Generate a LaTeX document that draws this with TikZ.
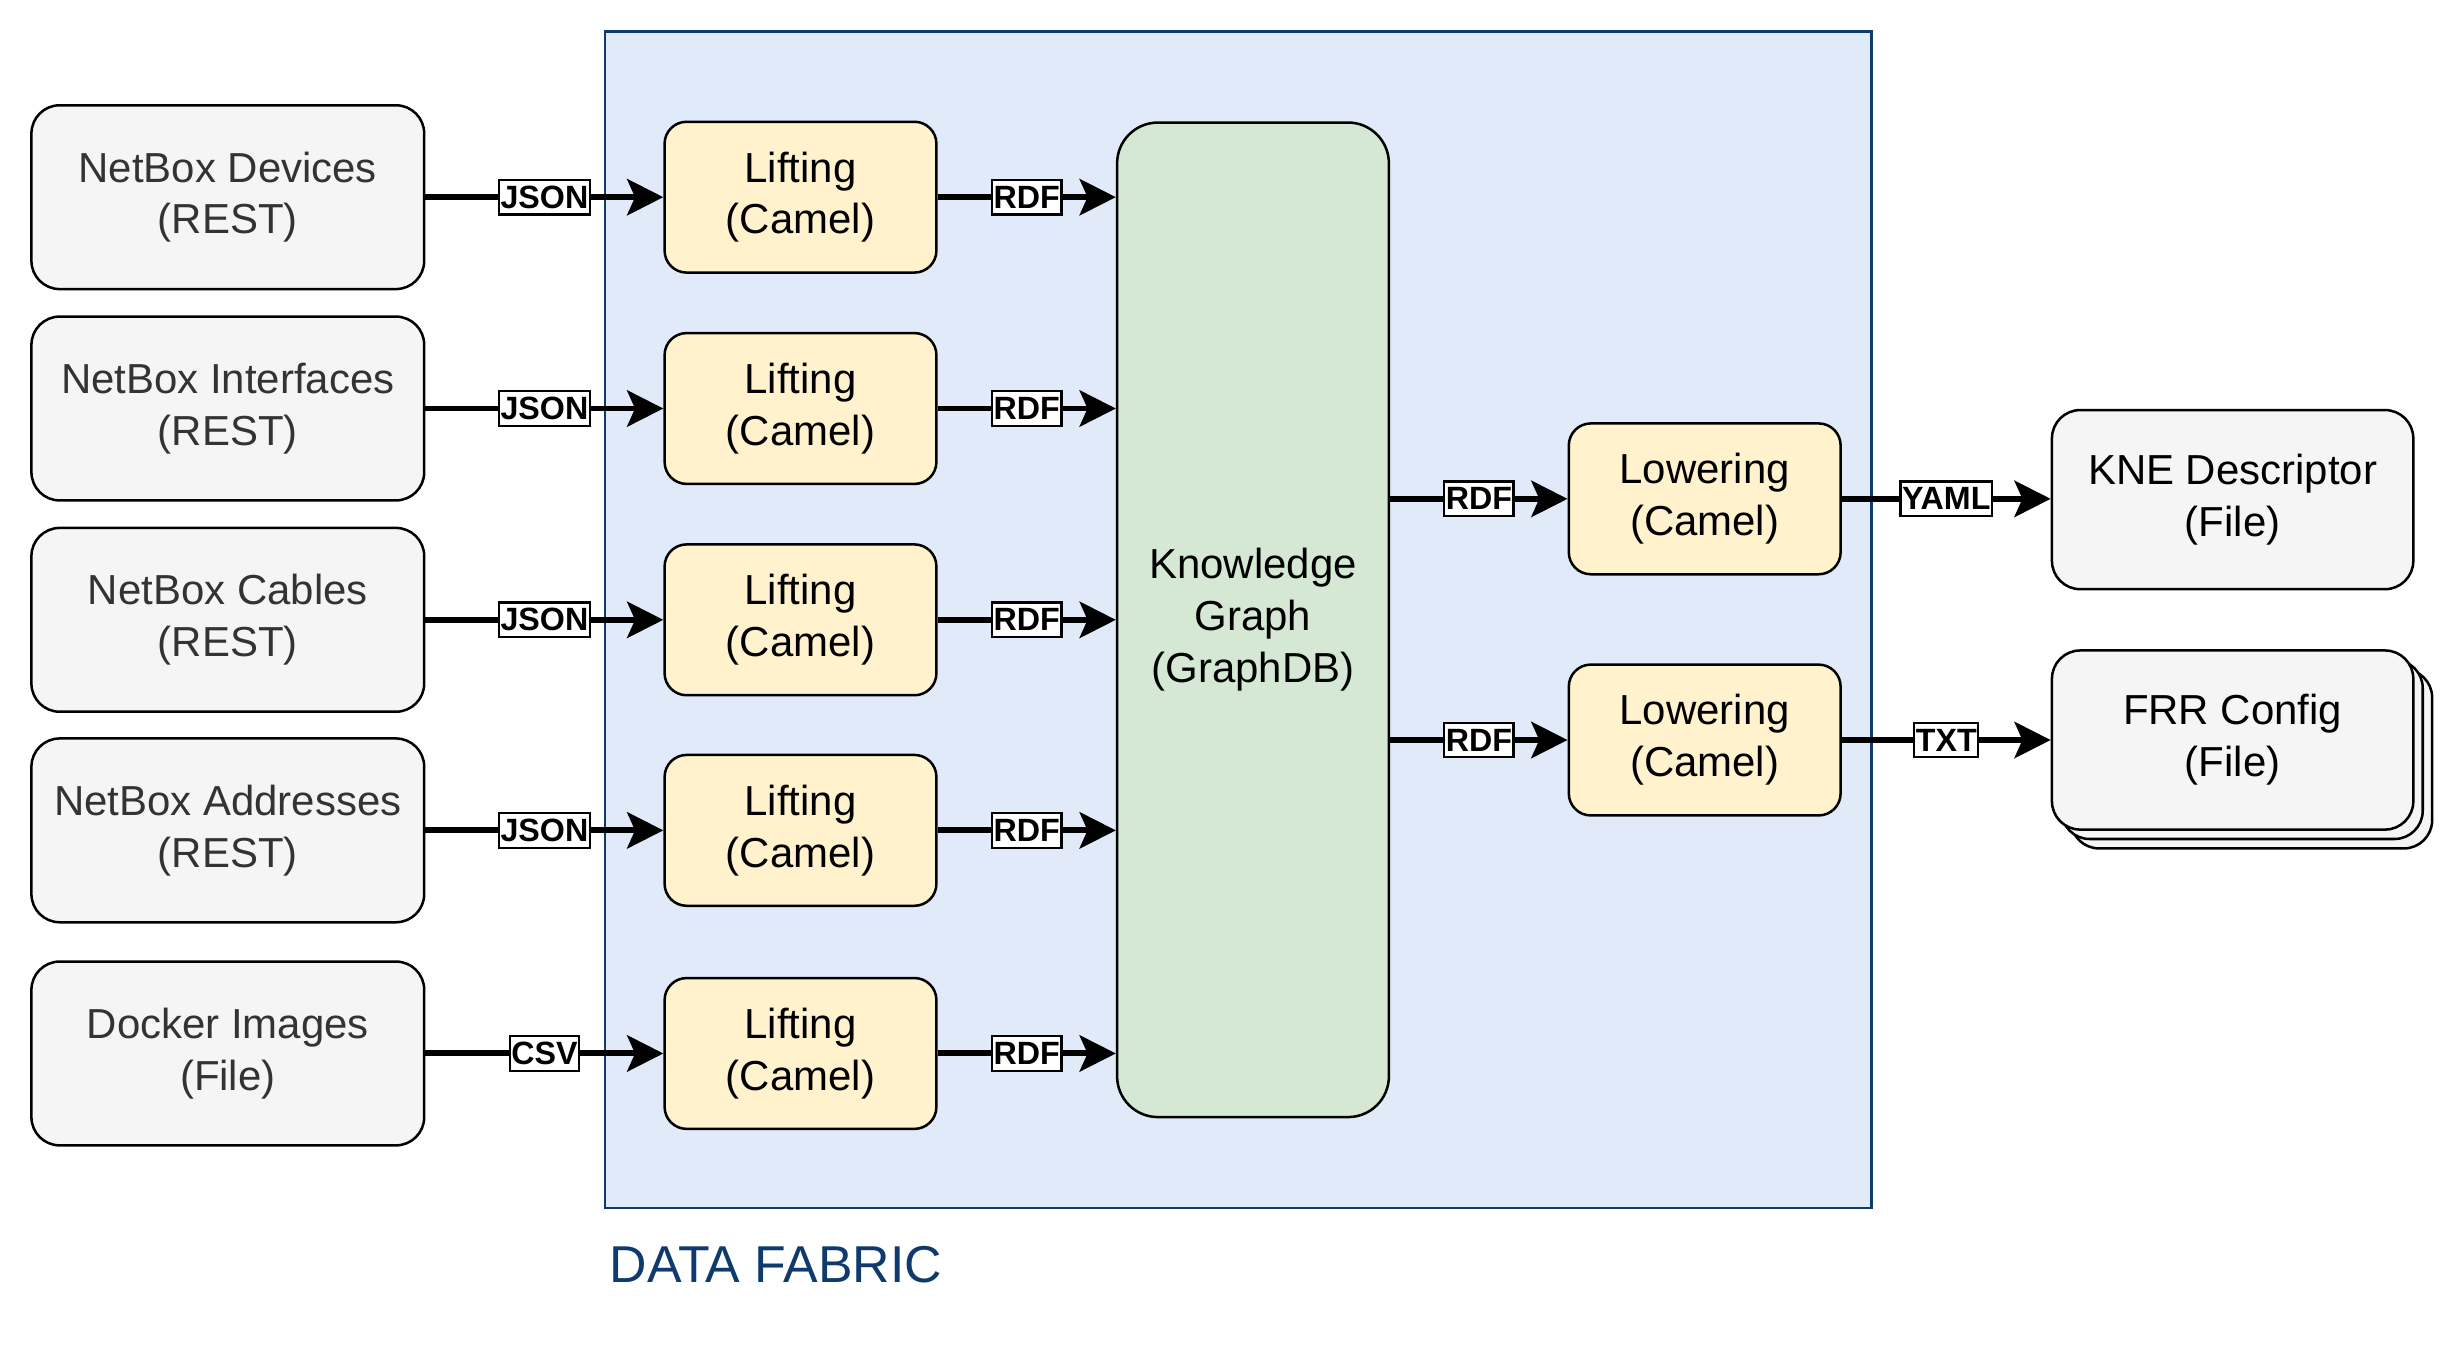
\documentclass[tikz,border=0pt]{standalone}
\usepackage{fontspec}
\setmainfont{Liberation Sans}
\usetikzlibrary{arrows.meta}

\definecolor{srcgray}{HTML}{F5F5F5}
\definecolor{srctext}{HTML}{333333}
\definecolor{camelyellow}{HTML}{FFF2CC}
\definecolor{kggreen}{HTML}{D5E8D4}
\definecolor{fabricblue}{HTML}{E0EAF9}
\definecolor{fabricline}{HTML}{0F3A6E}

\begin{document}
\begin{tikzpicture}[x=1pt,y=-1pt]
   \tikzstyle{every node}=[inner sep=0pt, align=center, font=\fontsize{26.7}{33}\selectfont]
   \tikzstyle{source}=[draw, line width=1.6pt, rounded corners=18pt, fill=srcgray, text=srctext, minimum width=250pt, minimum height=117pt]
   \tikzstyle{sink}=[source, text=black, minimum width=230pt, minimum height=114pt]
   \tikzstyle{camel}=[draw, line width=1.6pt, rounded corners=14pt, fill=camelyellow, minimum width=173pt, minimum height=96pt]
   \tikzstyle{tag}=[draw, line width=1.4pt, fill=white, font=\fontsize{20.5}{20.5}\selectfont\bfseries, text height=14pt, text depth=0pt, inner xsep=1pt, inner ysep=4pt]
   \tikzstyle{flow}=[line width=3.8pt, -{Stealth[length=23pt,width=23pt,inset=5pt]}]

\useasboundingbox (0,0) rectangle (1560,861);

% data fabric
\node[draw=fabricline, line width=1.6pt, fill=fabricblue, minimum width=806pt, minimum height=749pt] (fabric) at (788,394.5) {};
\node[anchor=base west, text=fabricline, font=\fontsize{33}{33}\selectfont] (fabriclabel) at (388,816) {DATA FABRIC};

% sources
\node[source] (netdev) at (145,125.5) {NetBox Devices\\(REST)};
\node[source] (netif) at (145,260) {NetBox Interfaces\\(REST)};
\node[source] (netcab) at (145,394.5) {NetBox Cables\\(REST)};
\node[source] (netaddr) at (145,528.5) {NetBox Addresses\\(REST)};
\node[source] (docker) at (145,670.5) {Docker Images\\(File)};

% lifting
\node[camel] (lift1) at (509.5,125.5) {Lifting\\(Camel)};
\node[camel] (lift2) at (509.5,260) {Lifting\\(Camel)};
\node[camel] (lift3) at (509.5,394.5) {Lifting\\(Camel)};
\node[camel] (lift4) at (509.5,528.5) {Lifting\\(Camel)};
\node[camel] (lift5) at (509.5,670.5) {Lifting\\(Camel)};

% knowledge graph
\node[draw, line width=1.6pt, rounded corners=26pt, fill=kggreen, minimum width=173pt, minimum height=633pt] (kg) at (797.5,394.5) {Knowledge\\Graph\\(GraphDB)};

% lowering
\node[camel] (low1) at (1085,317.5) {Lowering\\(Camel)};
\node[camel] (low2) at (1085,471) {Lowering\\(Camel)};

% outputs
\node[sink] (kne) at (1421,318) {KNE Descriptor\\(File)};
\node[sink] (frrback2) at (1433,483) {};
\node[sink] (frrback1) at (1427,477) {};
\node[sink] (frr) at (1421,471) {FRR Config\\(File)};

% flows
\draw[flow] (netdev) -- node[tag] {JSON} (lift1);
\draw[flow] (netif) -- node[tag] {JSON} (lift2);
\draw[flow] (netcab) -- node[tag] {JSON} (lift3);
\draw[flow] (netaddr) -- node[tag] {JSON} (lift4);
\draw[flow] (docker) -- node[tag] {CSV} (lift5);

\draw[flow] (lift1.east) -- node[tag] {RDF} (lift1.east -| kg.west);
\draw[flow] (lift2.east) -- node[tag] {RDF} (lift2.east -| kg.west);
\draw[flow] (lift3.east) -- node[tag] {RDF} (lift3.east -| kg.west);
\draw[flow] (lift4.east) -- node[tag] {RDF} (lift4.east -| kg.west);
\draw[flow] (lift5.east) -- node[tag] {RDF} (lift5.east -| kg.west);

\draw[flow] (low1.west -| kg.east) -- node[tag] {RDF} (low1.west);
\draw[flow] (low2.west -| kg.east) -- node[tag] {RDF} (low2.west);

\draw[flow] (low1.east) -- node[tag] {YAML} (low1.east -| kne.west);
\draw[flow] (low2.east) -- node[tag] {TXT} (low2.east -| frr.west);

\end{tikzpicture}
\end{document}
